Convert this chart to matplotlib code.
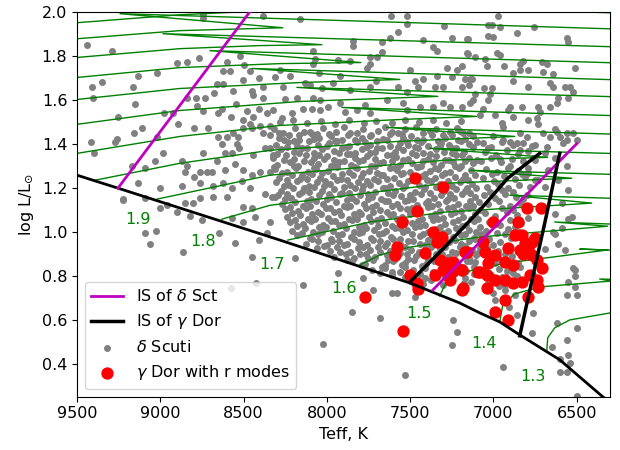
import matplotlib
matplotlib.use("Agg")
import numpy as np
import matplotlib.pyplot as plt

# evolutionary tracks: (Teff, log L) points, ZAMS -> TAMS -> hook -> subgiant
track_27 = [(9782, 1.914), (9500, 1.950), (8882, 1.986), (8492, 2.000), (9482, 2.068), (6122, 1.991)]
track_26 = [(9782, 1.837), (9500, 1.877), (8882, 1.914), (8264, 1.927), (9242, 1.991), (6122, 1.918)]
track_25 = [(9782, 1.751), (9500, 1.792), (8882, 1.832), (8402, 1.846), (8030, 1.850), (8984, 1.900), (6122, 1.837)]
track_24 = [(9782, 1.656), (9500, 1.701), (8882, 1.746), (8282, 1.764), (7796, 1.769), (8702, 1.823), (6122, 1.764)]
track_23 = [(9782, 1.551), (9500, 1.601), (8882, 1.651), (8162, 1.678), (7562, 1.692), (8450, 1.742), (6122, 1.687)]
track_22 = [(9782, 1.438), (9500, 1.488), (8882, 1.551), (8162, 1.592), (7334, 1.615), (8180, 1.656), (6122, 1.610)]
track_21 = [(9782, 1.302), (9500, 1.356), (8882, 1.433), (8282, 1.483), (7562, 1.510), (7100, 1.524), (7910, 1.565), (6122, 1.524)]
track_20 = [(9392, 1.234), (8882, 1.311), (8342, 1.370), (7562, 1.411), (6872, 1.433), (7640, 1.474), (6122, 1.440)]
track_19 = [(9020, 1.148), (8342, 1.257), (7292, 1.325), (6674, 1.338), (7382, 1.379), (6122, 1.352)]
track_18 = [(8630, 1.057), (8342, 1.120), (7292, 1.220), (6530, 1.243), (7142, 1.279), (6122, 1.257)]
track_17 = [(8234, 0.962), (7742, 1.044), (7292, 1.089), (6410, 1.130), (6902, 1.166), (6122, 1.148)]
track_16 = [(7802, 0.849), (7682, 0.894), (7502, 0.930), (7082, 0.976), (6314, 1.025), (6632, 1.044), (6122, 1.030)]
track_15 = [(7322, 0.708), (7292, 0.758), (7202, 0.812), (6920, 0.858), (6314, 0.917), (6482, 0.921), (6122, 0.912)]
track_14 = [(6962, 0.590), (6944, 0.667), (6872, 0.717), (6722, 0.749), (6290, 0.776), (6362, 0.785), (6122, 0.781)]
track_13 = [(6680, 0.454), (6674, 0.518), (6632, 0.563), (6542, 0.599), (6260, 0.636), (6122, 0.649)]

mass_labels = ["1.9", "1.8", "1.7", "1.6", "1.5", "1.4", "1.3"]
label_teff = [9134, 8744, 8330, 7898, 7448, 7058, 6764]
label_logl = [1.057, 0.957, 0.853, 0.744, 0.626, 0.491, 0.341]

zams_teff = [9500, 9254, 8282, 7502, 7202, 7082, 6962, 6842, 6602, 6344, 6242]
zams_logl = [1.257, 1.198, 0.962, 0.767, 0.676, 0.631, 0.590, 0.531, 0.418, 0.250, 0.191]

dsct_blue_teff = [9254, 8462]
dsct_blue_logl = [1.198, 2.0]
dsct_red_teff = [7364, 6500]
dsct_red_logl = [0.735, 1.40]

gdor_blue_teff = [7502, 7292, 7082, 6914, 6722]
gdor_blue_logl = [0.771, 0.930, 1.098, 1.243, 1.356]
gdor_red_teff = [6842, 6752, 6692, 6602]
gdor_red_logl = [0.527, 0.835, 1.039, 1.356]

# gamma Dor stars with r modes
rmode_stars = [
    (7472, 1.243), (7304, 1.202), (7460, 1.093), (7550, 1.044), (7364, 0.998), (7310, 0.976),
    (7340, 0.953), (7322, 0.962), (7580, 0.930), (7592, 0.894), (7412, 0.903), (7322, 0.871),
    (7280, 0.858), (7244, 0.862), (7304, 0.826), (7250, 0.817), (7220, 0.835), (7352, 0.803),
    (7262, 0.781), (7502, 0.803), (7460, 0.767), (7454, 0.740), (7190, 0.735), (7772, 0.704),
    (7544, 0.549), (7172, 0.908), (7094, 0.817),
    (6800, 1.107), (6716, 1.107), (7004, 1.044), (6854, 1.044), (6872, 0.985), (6830, 0.985),
    (6752, 0.971), (7064, 0.953), (7160, 0.908), (7052, 0.908), (6992, 0.894), (6914, 0.926),
    (6842, 0.917), (6794, 0.926), (6770, 0.894), (6740, 0.871), (6932, 0.862), (6884, 0.849),
    (6710, 0.835), (7034, 0.858), (7082, 0.817), (7190, 0.826), (7040, 0.803), (6992, 0.781),
    (6932, 0.781), (6884, 0.767), (6830, 0.772), (6782, 0.803), (6740, 0.781), (6734, 0.749),
    (7184, 0.744), (7040, 0.744), (6932, 0.690), (6794, 0.704), (6992, 0.636), (6914, 0.599),
    (6810, 0.950), (6790, 0.935), (6770, 0.955), (6820, 0.900),
]

# delta Scuti stars, upper left part
scuti_upper_left = [
    (9440, 1.85), (9290, 1.82), (8900, 1.765), (8840, 1.77), (8768, 1.79), (9134, 1.71), (9020, 1.72),
    (9410, 1.66), (9350, 1.68), (9404, 1.61), (9164, 1.66), (9152, 1.58), (9254, 1.52), (9110, 1.47),
    (9158, 1.45), (9416, 1.41), (9260, 1.42), (9398, 1.36), (9272, 1.41), (9020, 1.43), (8984, 1.36),
    (9032, 1.32), (9170, 1.30), (9092, 1.29), (9134, 1.22), (9002, 1.20), (8924, 1.54), (8894, 1.49),
    (8978, 1.54), (8798, 1.47), (8714, 1.47), (8840, 1.61), (8786, 1.61), (8780, 1.57), (8732, 1.61),
    (8744, 1.55), (8678, 1.63), (8660, 1.67), (8624, 1.67), (8624, 1.73), (8582, 1.73), (8600, 1.77),
    (8522, 1.80), (8498, 1.76), (8462, 1.73), (8384, 1.98), (8744, 1.99), (8744, 1.97), (8564, 1.64),
    (8504, 1.69), (8450, 1.64), (8444, 1.62), (8384, 1.66), (8408, 1.70), (8384, 1.61), (8630, 1.56),
    (8546, 1.58), (8654, 1.54), (8576, 1.52), (8504, 1.51), (8444, 1.52), (8480, 1.55), (8408, 1.56),
    (8360, 1.54), (8654, 1.43), (8600, 1.43), (8564, 1.45), (8534, 1.43), (8540, 1.40), (8504, 1.47),
    (8450, 1.47), (8462, 1.49), (8402, 1.48), (8342, 1.48), (8384, 1.45), (8342, 1.44), (8630, 1.40),
    (8612, 1.36), (8570, 1.36), (8528, 1.38), (8444, 1.35), (8372, 1.38), (8342, 1.38), (8324, 1.35),
    (8660, 1.32), (8552, 1.31), (8612, 1.28), (8504, 1.28), (8450, 1.26), (8402, 1.27), (8342, 1.27),
    (8870, 1.32), (8840, 1.30), (8744, 1.36), (8852, 1.27), (8798, 1.25), (8762, 1.27), (8720, 1.27),
    (8690, 1.27), (8762, 1.22), (8684, 1.21), (8870, 1.21), (8624, 1.22), (8570, 1.20), (8510, 1.23),
    (8462, 1.20), (8372, 1.17), (8330, 1.16), (9224, 1.15),
]

# delta Scuti stars, upper middle part
scuti_upper_mid = [
    (8162, 1.968), (7616, 1.982), (7520, 1.982), (7520, 1.946), (7574, 1.909), (7622, 1.882), (7298, 1.937),
    (7844, 1.868), (7844, 1.846), (7670, 1.864), (7250, 1.882), (7424, 1.873), (7364, 1.841), (7340, 1.823),
    (7154, 1.877), (7154, 1.810), (7670, 1.819), (7742, 1.796), (7700, 1.796), (8084, 1.823), (8072, 1.787),
    (8084, 1.764), (7934, 1.782), (7862, 1.778), (7742, 1.764), (8282, 1.737), (8222, 1.710), (8312, 1.701),
    (8048, 1.723), (7922, 1.710), (7760, 1.742), (7706, 1.687), (7502, 1.733), (7472, 1.687), (7424, 1.696),
    (7340, 1.710), (7220, 1.733), (7190, 1.755), (7142, 1.696), (7280, 1.742), (7250, 1.701), (8264, 1.656),
    (8132, 1.678), (8102, 1.665), (8030, 1.651), (7964, 1.674), (7862, 1.646), (7742, 1.656), (7574, 1.656),
    (7520, 1.633), (7454, 1.656), (7352, 1.656), (7304, 1.660), (7190, 1.656), (7148, 1.665), (8252, 1.601),
    (8180, 1.610), (8084, 1.610), (8042, 1.597), (8144, 1.560), (8090, 1.560), (8042, 1.551), (7994, 1.565),
    (7922, 1.583), (7892, 1.542), (7820, 1.551), (7772, 1.574), (7742, 1.538), (7640, 1.597), (7544, 1.583),
    (7520, 1.551), (7442, 1.565), (7364, 1.569), (7304, 1.583), (7262, 1.565), (7190, 1.569), (7142, 1.583),
    (8324, 1.551), (8270, 1.515), (8210, 1.538),
    (8281, 1.497), (8203, 1.508), (8118, 1.494), (8034, 1.503), (7951, 1.491), (7868, 1.509), (7779, 1.496),
    (7702, 1.505), (7611, 1.492), (7533, 1.507), (7448, 1.498), (7361, 1.510), (7283, 1.493), (7197, 1.504),
]

# delta Scuti stars, upper right part
scuti_upper_right = [
    (6974, 1.982), (7034, 1.941), (7010, 1.941), (6962, 1.932), (6758, 1.932), (6860, 1.905), (7034, 1.891),
    (7004, 1.887), (6560, 1.882), (6554, 1.864), (7160, 1.877), (7160, 1.814), (6980, 1.814), (6962, 1.805),
    (7112, 1.792), (7052, 1.787), (6824, 1.778), (6842, 1.764), (6710, 1.773), (6680, 1.764), (6938, 1.751),
    (7040, 1.755), (6884, 1.723), (6842, 1.737), (6794, 1.733), (6704, 1.728), (6644, 1.719), (6512, 1.742),
    (6884, 1.687), (7172, 1.696), (7130, 1.696), (6794, 1.656), (6662, 1.674), (6644, 1.660), (6572, 1.660),
    (6542, 1.656), (6524, 1.633), (6554, 1.610), (6614, 1.610), (7112, 1.628), (7058, 1.651), (7010, 1.651),
    (7124, 1.597), (7034, 1.597), (7022, 1.624), (6902, 1.565), (6914, 1.551), (6830, 1.565), (6734, 1.565),
    (6722, 1.542), (6662, 1.569), (6620, 1.583), (7082, 1.529), (7064, 1.560), (6992, 1.529), (6950, 1.492),
    (6944, 1.474), (6884, 1.520), (6794, 1.506), (6740, 1.515), (6734, 1.488), (6632, 1.469), (6842, 1.447),
    (6800, 1.429), (6752, 1.392), (6704, 1.447), (6662, 1.429), (6620, 1.451), (6602, 1.429), (6560, 1.447),
    (6524, 1.447), (6500, 1.415), (6560, 1.415), (6584, 1.402), (6692, 1.356), (6632, 1.333), (6680, 1.384),
    (7202, 1.456), (7124, 1.434), (7004, 1.434), (6944, 1.415), (6902, 1.406), (6860, 1.402), (6842, 1.370),
    (6632, 1.081), (6590, 1.018), (6632, 0.990), (6614, 0.945), (6692, 0.922), (6554, 1.058), (6524, 0.835),
    (6794, 1.266), (6734, 1.234), (6614, 1.234), (6554, 1.189), (6692, 1.202), (6530, 1.066), (6674, 1.279),
    (6752, 1.325), (6560, 1.300), (6590, 1.130),
]

# delta Scuti stars, dense core of the strip
scuti_core = [
    (8318, 1.468), (8262, 1.449), (8191, 1.473), (8140, 1.455), (8062, 1.446), (8021, 1.471), (7948, 1.452),
    (7897, 1.476), (7822, 1.447), (7781, 1.466), (7693, 1.459), (7652, 1.474), (7571, 1.450), (7528, 1.465),
    (7466, 1.478), (7381, 1.456), (7342, 1.469), (7262, 1.452), (7221, 1.472), (7148, 1.449),
    (8290, 1.426), (8228, 1.439), (8168, 1.418), (8092, 1.443), (8048, 1.428), (7973, 1.436), (7912, 1.417),
    (7871, 1.441), (7792, 1.425), (7742, 1.437), (7662, 1.420), (7621, 1.442), (7541, 1.424), (7497, 1.433),
    (7422, 1.419), (7371, 1.440), (7291, 1.426), (7248, 1.438), (7171, 1.421),
    (8303, 1.396), (8231, 1.408), (8182, 1.389), (8107, 1.411), (8051, 1.394), (7989, 1.404), (7941, 1.413),
    (7866, 1.388), (7822, 1.406), (7741, 1.395), (7697, 1.412), (7622, 1.390), (7563, 1.402), (7512, 1.393),
    (7437, 1.410), (7392, 1.389), (7312, 1.405), (7267, 1.394), (7193, 1.411), (7146, 1.397),
    (8278, 1.374), (8198, 1.362), (8152, 1.381), (8077, 1.359), (8032, 1.376), (7958, 1.365), (7911, 1.382),
    (7833, 1.358), (7787, 1.375), (7711, 1.364), (7667, 1.379), (7592, 1.361), (7541, 1.370), (7468, 1.383),
    (7422, 1.360), (7347, 1.377), (7297, 1.364), (7222, 1.380), (7176, 1.361),
    (8326, 1.336), (8247, 1.347), (8196, 1.330), (8123, 1.349), (8077, 1.333), (8002, 1.345), (7957, 1.328),
    (7882, 1.351), (7832, 1.335), (7757, 1.346), (7712, 1.329), (7637, 1.350), (7587, 1.341), (7513, 1.331),
    (7467, 1.348), (7392, 1.332), (7347, 1.344), (7268, 1.328), (7222, 1.349), (7148, 1.336),
    (8297, 1.303), (8222, 1.316), (8172, 1.298), (8098, 1.319), (8052, 1.306), (7977, 1.299), (7927, 1.317),
    (7853, 1.304), (7807, 1.321), (7732, 1.300), (7682, 1.312), (7608, 1.322), (7562, 1.302), (7488, 1.314),
    (7437, 1.298), (7362, 1.318), (7317, 1.305), (7243, 1.316), (7197, 1.300), (7122, 1.312),
    (8312, 1.285), (8238, 1.273), (8187, 1.291), (8113, 1.270), (8067, 1.287), (7993, 1.276), (7942, 1.293),
    (7868, 1.271), (7822, 1.288), (7748, 1.278), (7697, 1.268), (7623, 1.290), (7577, 1.281), (7503, 1.270),
    (7452, 1.292), (7378, 1.275), (7332, 1.286), (7258, 1.273), (7207, 1.291), (7133, 1.280),
    (8287, 1.245), (8208, 1.258), (8162, 1.239), (8088, 1.261), (8042, 1.244), (7963, 1.255), (7917, 1.238),
    (7843, 1.260), (7797, 1.248), (7718, 1.241), (7672, 1.259), (7598, 1.246), (7552, 1.262), (7473, 1.240),
    (7427, 1.253), (7353, 1.243), (7307, 1.259), (7228, 1.249), (7182, 1.239), (7108, 1.256),
    (8307, 1.224), (8228, 1.212), (8182, 1.230), (8108, 1.210), (8057, 1.228), (7983, 1.217), (7937, 1.234),
    (7863, 1.211), (7812, 1.226), (7738, 1.214), (7692, 1.232), (7618, 1.209), (7567, 1.222), (7493, 1.233),
    (7447, 1.213), (7373, 1.229), (7322, 1.219), (7248, 1.208), (7202, 1.227), (7128, 1.216),
    (8277, 1.186), (8203, 1.198), (8152, 1.181), (8078, 1.201), (8032, 1.184), (7958, 1.195), (7907, 1.178),
    (7833, 1.199), (7787, 1.188), (7713, 1.182), (7662, 1.200), (7588, 1.185), (7542, 1.197), (7468, 1.179),
    (7417, 1.192), (7343, 1.201), (7297, 1.183), (7223, 1.195), (7172, 1.187), (7103, 1.199),
    (8292, 1.165), (8218, 1.153), (8167, 1.170), (8093, 1.149), (8047, 1.167), (7973, 1.156), (7922, 1.173),
    (7848, 1.151), (7802, 1.168), (7728, 1.158), (7677, 1.148), (7603, 1.169), (7557, 1.161), (7483, 1.150),
    (7432, 1.172), (7358, 1.155), (7312, 1.166), (7238, 1.152), (7187, 1.170), (7113, 1.160),
    (8267, 1.125), (8193, 1.137), (8142, 1.119), (8068, 1.140), (8022, 1.124), (7948, 1.135), (7897, 1.118),
    (7823, 1.139), (7777, 1.128), (7703, 1.122), (7652, 1.138), (7578, 1.126), (7532, 1.141), (7458, 1.120),
    (7407, 1.132), (7333, 1.124), (7287, 1.139), (7213, 1.128), (7162, 1.119), (7088, 1.136),
    (8252, 1.105), (8173, 1.093), (8127, 1.110), (8053, 1.089), (8007, 1.107), (7928, 1.096), (7882, 1.112),
    (7808, 1.091), (7762, 1.108), (7683, 1.098), (7637, 1.088), (7563, 1.109), (7517, 1.101), (7438, 1.090),
    (7392, 1.111), (7318, 1.095), (7272, 1.106), (7193, 1.092), (7147, 1.110), (7078, 1.100),
    (8237, 1.065), (8163, 1.077), (8112, 1.059), (8038, 1.080), (7992, 1.064), (7918, 1.075), (7867, 1.058),
    (7793, 1.079), (7747, 1.068), (7673, 1.062), (7622, 1.078), (7548, 1.066), (7502, 1.081), (7428, 1.060),
    (7377, 1.072), (7303, 1.064), (7257, 1.079), (7183, 1.068), (7132, 1.059),
    (8222, 1.045), (8143, 1.033), (8097, 1.050), (8023, 1.029), (7977, 1.047), (7898, 1.036), (7852, 1.052),
    (7778, 1.031), (7732, 1.048), (7653, 1.038), (7607, 1.028), (7533, 1.049), (7487, 1.041), (7408, 1.030),
    (7362, 1.051), (7288, 1.035), (7242, 1.046), (7163, 1.032), (7117, 1.050),
    (8207, 1.005), (8133, 1.017), (8082, 0.999), (8008, 1.020), (7962, 1.004), (7888, 1.015), (7837, 0.998),
    (7763, 1.019), (7717, 1.008), (7643, 1.002), (7592, 1.018), (7518, 1.006), (7472, 1.021), (7393, 1.000),
    (7347, 1.012), (7273, 1.004), (7227, 1.019), (7148, 1.008), (7102, 0.999),
    (8177, 0.985), (8103, 0.973), (8052, 0.990), (7978, 0.969), (7932, 0.987), (7858, 0.976), (7807, 0.992),
    (7733, 0.971), (7687, 0.988), (7613, 0.978), (7562, 0.968), (7488, 0.989), (7442, 0.981), (7368, 0.970),
    (7317, 0.991), (7243, 0.975), (7197, 0.986), (7118, 0.973), (7077, 0.990),
    (8127, 0.945), (8053, 0.957), (8002, 0.939), (7928, 0.960), (7882, 0.944), (7808, 0.955), (7757, 0.938),
    (7683, 0.959), (7637, 0.948), (7563, 0.942), (7512, 0.958), (7438, 0.946), (7392, 0.961), (7313, 0.940),
    (7267, 0.952), (7193, 0.944), (7147, 0.959), (7073, 0.948),
    (8057, 0.925), (7983, 0.913), (7937, 0.930), (7863, 0.909), (7812, 0.927), (7738, 0.916), (7692, 0.932),
    (7618, 0.911), (7567, 0.928), (7493, 0.918), (7447, 0.908), (7373, 0.929), (7322, 0.921), (7248, 0.910),
    (7202, 0.931), (7128, 0.915), (7082, 0.926),
    (7957, 0.885), (7883, 0.897), (7837, 0.879), (7763, 0.900), (7712, 0.884), (7638, 0.895), (7592, 0.878),
    (7518, 0.899), (7467, 0.888), (7393, 0.882), (7347, 0.898), (7273, 0.886), (7222, 0.901), (7148, 0.880),
    (7102, 0.892),
    (7847, 0.865), (7773, 0.853), (7722, 0.870), (7648, 0.849), (7602, 0.867), (7528, 0.856), (7477, 0.872),
    (7403, 0.851), (7357, 0.868), (7283, 0.858), (7232, 0.848), (7158, 0.869), (7112, 0.861),
    (7727, 0.825), (7653, 0.837), (7607, 0.819), (7533, 0.840), (7482, 0.824), (7408, 0.835), (7362, 0.818),
    (7288, 0.839), (7237, 0.828), (7163, 0.822), (7117, 0.838),
    (7607, 0.805), (7533, 0.793), (7487, 0.810), (7413, 0.789), (7362, 0.807), (7288, 0.796), (7242, 0.812),
    (7168, 0.791), (7117, 0.808),
    (7497, 0.775), (7423, 0.762), (7377, 0.780), (7303, 0.759), (7252, 0.777), (7178, 0.766), (7132, 0.772),
]

# more stars filling the gaps of the dense core
scuti_core_fill = [
    (8290, 1.447), (8165, 1.441), (8100, 1.452), (7985, 1.444), (7860, 1.449), (7735, 1.440), (7610, 1.451),
    (7550, 1.443), (7420, 1.448), (7300, 1.441), (7185, 1.450),
    (8260, 1.417), (8200, 1.411), (8075, 1.420), (7950, 1.413), (7830, 1.418), (7770, 1.409), (7640, 1.416),
    (7520, 1.410), (7460, 1.419), (7330, 1.412), (7210, 1.417), (7100, 1.410),
    (8240, 1.386), (8120, 1.380), (8000, 1.389), (7880, 1.383), (7760, 1.387), (7700, 1.379), (7570, 1.385),
    (7450, 1.381), (7320, 1.388), (7250, 1.380), (7120, 1.384),
    (8300, 1.353), (8170, 1.359), (8050, 1.350), (7930, 1.357), (7860, 1.352), (7740, 1.358), (7610, 1.349),
    (7490, 1.356), (7380, 1.351), (7250, 1.357), (7190, 1.350),
    (8260, 1.327), (8140, 1.320), (8020, 1.329), (7900, 1.322), (7780, 1.328), (7660, 1.319), (7540, 1.326),
    (7420, 1.321), (7290, 1.328), (7170, 1.320), (7100, 1.326),
    (8320, 1.293), (8200, 1.299), (8080, 1.290), (7960, 1.297), (7830, 1.292), (7710, 1.298), (7590, 1.289),
    (7460, 1.296), (7350, 1.291), (7230, 1.298),
    (8270, 1.267), (8150, 1.260), (8030, 1.269), (7910, 1.262), (7780, 1.268), (7660, 1.259), (7540, 1.266),
    (7410, 1.261), (7290, 1.268), (7170, 1.260),
    (8240, 1.233), (8120, 1.239), (8010, 1.230), (7880, 1.237), (7760, 1.232), (7640, 1.238), (7510, 1.229),
    (7400, 1.236), (7270, 1.231), (7150, 1.237),
    (8260, 1.207), (8140, 1.200), (8020, 1.209), (7900, 1.202), (7780, 1.208), (7650, 1.199), (7530, 1.206),
    (7410, 1.201), (7290, 1.208), (7160, 1.200),
    (8240, 1.173), (8110, 1.179), (7990, 1.170), (7870, 1.177), (7750, 1.172), (7630, 1.178), (7500, 1.169),
    (7380, 1.176), (7260, 1.171), (7140, 1.177),
    (8250, 1.147), (8120, 1.140), (8000, 1.149), (7880, 1.142), (7750, 1.148), (7630, 1.139), (7510, 1.146),
    (7390, 1.141), (7270, 1.148), (7140, 1.140),
    (8220, 1.113), (8100, 1.119), (7980, 1.110), (7860, 1.117), (7730, 1.112), (7610, 1.118), (7490, 1.109),
    (7370, 1.116), (7240, 1.111), (7120, 1.117),
    (8210, 1.087), (8090, 1.080), (7960, 1.089), (7840, 1.082), (7720, 1.088), (7600, 1.079), (7470, 1.086),
    (7350, 1.081), (7230, 1.088), (7110, 1.080),
    (8190, 1.053), (8070, 1.059), (7950, 1.050), (7820, 1.057), (7700, 1.052), (7580, 1.058), (7450, 1.049),
    (7330, 1.056), (7210, 1.051), (7090, 1.057),
    (8180, 1.027), (8050, 1.020), (7930, 1.029), (7810, 1.022), (7690, 1.028), (7560, 1.019), (7440, 1.026),
    (7320, 1.021), (7190, 1.028), (7080, 1.020),
    (8150, 0.993), (8030, 0.999), (7910, 0.990), (7790, 0.997), (7660, 0.992), (7540, 0.998), (7420, 0.989),
    (7300, 0.996), (7170, 0.991),
    (8090, 0.967), (7970, 0.960), (7840, 0.969), (7720, 0.962), (7600, 0.968), (7480, 0.959), (7350, 0.966),
    (7230, 0.961), (7110, 0.968),
    (8020, 0.933), (7900, 0.939), (7780, 0.930), (7650, 0.937), (7530, 0.932), (7410, 0.938), (7290, 0.929),
    (7170, 0.936),
    (7920, 0.907), (7800, 0.900), (7680, 0.909), (7560, 0.902), (7430, 0.908), (7310, 0.899), (7190, 0.906),
    (7090, 0.901),
    (7880, 0.873), (7750, 0.879), (7630, 0.870), (7510, 0.877), (7390, 0.872), (7260, 0.878), (7140, 0.869),
    (7790, 0.847), (7670, 0.840), (7550, 0.849), (7430, 0.842), (7300, 0.848), (7180, 0.839),
    (7680, 0.813), (7560, 0.819), (7440, 0.810), (7310, 0.817), (7190, 0.812),
]

# delta Scuti stars inside the gamma Dor strip
scuti_gdor_strip = [
    (7065, 1.402), (7012, 1.385), (6948, 1.410), (6885, 1.392), (6822, 1.404), (6770, 1.388),
    (7048, 1.362), (6983, 1.350), (6917, 1.371), (6851, 1.355), (6790, 1.366),
    (7072, 1.322), (7015, 1.335), (6952, 1.318), (6889, 1.331), (6823, 1.320), (6760, 1.337),
    (7042, 1.285), (6978, 1.272), (6915, 1.291), (6852, 1.276), (6795, 1.288),
    (7061, 1.245), (6999, 1.232), (6936, 1.251), (6872, 1.238), (6811, 1.249), (6748, 1.236),
    (7038, 1.205), (6975, 1.218), (6912, 1.199), (6846, 1.212), (6782, 1.202),
    (7057, 1.165), (6992, 1.152), (6928, 1.171), (6863, 1.158), (6798, 1.168),
    (7032, 1.125), (6969, 1.138), (6903, 1.119), (6838, 1.132),
    (7051, 1.085), (6988, 1.072), (6921, 1.091), (6857, 1.078), (6790, 1.062),
    (7028, 1.045), (6962, 1.032), (6899, 1.051), (6833, 1.038),
    (7046, 1.005), (6981, 0.992), (6915, 1.011), (6849, 0.998),
    (7024, 0.965), (6958, 0.952), (6892, 0.971),
    (7041, 0.925), (6975, 0.912), (6907, 0.931), (6843, 0.918),
    (7019, 0.885), (6954, 0.872), (6887, 0.891),
    (7036, 0.845), (6969, 0.832), (6902, 0.851), (6838, 0.838),
    (7014, 0.805), (6949, 0.792), (6882, 0.811),
    (7031, 0.765), (6965, 0.752), (6898, 0.771),
    (7000, 0.720), (6930, 0.735), (6868, 0.712), (6905, 0.660), (6860, 0.620), (6990, 0.690),
    (7030, 1.380), (6960, 1.330), (6900, 1.300), (6830, 1.262), (7010, 1.262), (6950, 1.190),
    (6880, 1.180), (7020, 1.180), (6820, 1.150), (6950, 1.110), (6880, 1.100), (7000, 1.060),
    (6870, 1.020), (6930, 0.990), (7000, 0.940), (6930, 0.900), (6990, 0.860), (6920, 0.820),
    (6990, 0.780), (6930, 0.760), (6860, 0.800), (6850, 0.860),
]

# delta Scuti stars, sparse ones (left side and below the ZAMS)
scuti_sparse = [
    (9224, 1.143), (9092, 1.152), (9002, 1.107), (8960, 1.121), (8900, 1.089), (8852, 1.130), (8804, 1.130),
    (8762, 1.152), (8822, 1.071), (8750, 1.053), (8684, 1.157), (8600, 1.157), (8570, 1.062), (8504, 1.112),
    (8450, 1.107), (8432, 1.066), (8504, 1.044), (8552, 0.948), (8648, 0.994), (8450, 0.885), (8408, 0.962),
    (8342, 1.044), (8360, 0.994), (8312, 1.157), (9092, 0.994), (9026, 1.003), (9062, 0.944), (8864, 0.908),
    (8576, 0.744), (8426, 0.767),
    (8192, 0.880), (8144, 0.758), (7934, 0.812), (7784, 0.790), (7724, 0.735), (7610, 0.722), (7580, 0.722),
    (7850, 0.636), (7682, 0.608), (8024, 0.490), (7532, 0.350), (7472, 0.704), (7244, 0.599), (7220, 0.545),
    (7250, 0.486),
    (6770, 0.540), (6944, 0.386), (6644, 0.998), (6572, 0.917), (6512, 0.826), (6512, 0.749), (6500, 0.713),
    (6560, 0.713), (6620, 0.586), (6500, 0.563), (6560, 0.508), (6542, 0.404), (6602, 0.363), (6560, 0.363),
    (6764, 0.632), (6650, 0.477), (6602, 0.422), (6554, 0.440), (6512, 0.800), (6554, 0.772), (6500, 0.255),
]

tracks = [track_27, track_26, track_25, track_24, track_23, track_22, track_21,
          track_20, track_19, track_18, track_17, track_16, track_15, track_14, track_13]
scuti = np.array(scuti_upper_left + scuti_upper_mid + scuti_upper_right
                 + scuti_core + scuti_core_fill + scuti_gdor_strip + scuti_sparse)
rmodes = np.array(rmode_stars)

plt.rcParams['font.size'] = 11.5

fig = plt.figure(figsize=(6.2, 4.5), dpi=100)
ax = fig.add_axes([0.1242, 0.1184, 0.8597, 0.8556])

# gray stars below the tracks
sct = ax.scatter(scuti[:, 0], scuti[:, 1], s=16, color='gray', zorder=1, label=r'$\delta$ Scuti')

for tr in tracks:
    tr = np.array(tr)
    ax.plot(tr[:, 0], tr[:, 1], color='green', lw=1, zorder=2)

for lab, t, l in zip(mass_labels, label_teff, label_logl):
    ax.text(t, l, lab, color='green', ha='center', va='center', fontsize=11.5, zorder=2)

rm = ax.scatter(rmodes[:, 0], rmodes[:, 1], s=62, color='red', zorder=3,
                label=r'$\gamma$ Dor with r modes')

ax.plot(zams_teff, zams_logl, color='black', lw=2, zorder=4)
ln1, = ax.plot(dsct_blue_teff, dsct_blue_logl, color='m', lw=2, zorder=4, label=r'IS of $\delta$ Sct')
ax.plot(dsct_red_teff, dsct_red_logl, color='m', lw=2, zorder=4)
ln2, = ax.plot(gdor_blue_teff, gdor_blue_logl, color='black', lw=2.5, zorder=4, label=r'IS of $\gamma$ Dor')
ax.plot(gdor_red_teff, gdor_red_logl, color='black', lw=2.5, zorder=4)

ax.set_xlim(9500, 6300)
ax.set_ylim(0.25, 2.0)
ax.set_xticks([9500, 9000, 8500, 8000, 7500, 7000, 6500])
ax.set_yticks([0.4, 0.6, 0.8, 1.0, 1.2, 1.4, 1.6, 1.8, 2.0])
ax.set_xlabel('Teff, K')
ax.set_ylabel(r'log L/L$_{\odot}$')

ax.legend(handles=[ln1, ln2, sct, rm], loc='lower left', scatterpoints=1)

fig.savefig('out.png', dpi=100)
